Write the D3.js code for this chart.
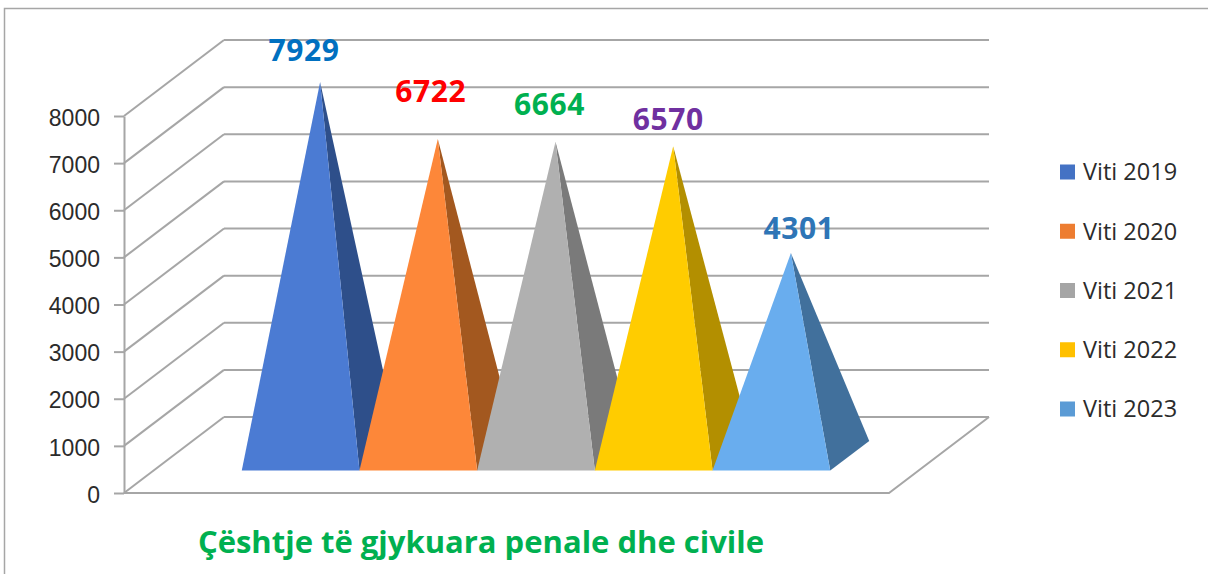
<!DOCTYPE html>
<html>
<head>
<meta charset="utf-8">
<script src="https://cdn.jsdelivr.net/npm/d3@7"></script>
<style>
  html, body { margin: 0; padding: 0; background: #fff; }
  svg { display: block; font-family: "Open Sans", "Noto Sans", sans-serif; }
</style>
</head>
<body>
<div id="chart"></div>
<script>
// ---- data ----
const years = ['Viti 2019', 'Viti 2020', 'Viti 2021', 'Viti 2022', 'Viti 2023'];
const values = [7929, 6722, 6664, 6570, 4301];
const yTicks = [0, 1000, 2000, 3000, 4000, 5000, 6000, 7000, 8000];
const chartTitle = 'Çështje të gjykuara penale dhe civile';

// ---- styles ----
const legendColors = ['#4472C4', '#ED7D31', '#A5A5A5', '#FFC000', '#5B9BD5'];
const frontColors = ['#4b7bd3', '#fd8739', '#b0b0b0', '#ffcc00', '#69adee'];
const sideColors = ['#2e4f8a', '#a3581f', '#7a7a7a', '#b38f00', '#41709c'];
const labelColors = ['#0070C0', '#FF0000', '#00B050', '#7030A0', '#2E75B6'];
// labels were hand-moved in the original
const labelNudge = [[-16, -1], [-7, -17], [-6, -7], [-5, 4], [8, 6]];

const width = 1208;
const height = 574;
const gridColor = '#a6a6a6';
const textColor = '#2b2b2b';

// front plane of the plot box and the depth vector of the 3D walls
const front = { left: 124, right: 889, bottom: 493, top: 116 };
const depth = { dx: 100, dy: -76 };

const svg = d3.select('#chart')
  .append('svg')
  .attr('width', width)
  .attr('height', height);

// outer chart frame
svg.append('rect')
  .attr('x', 4.5).attr('y', 8.5)
  .attr('width', width + 50).attr('height', height + 50)
  .attr('fill', '#fff')
  .attr('stroke', gridColor)
  .attr('stroke-width', 1.5);

const y = d3.scaleLinear()
  .domain([0, 8000])
  .range([front.bottom, front.top]);

const x = d3.scaleBand()
  .domain(years)
  .range([front.left, front.right])
  .paddingInner(0)
  .paddingOuter(0.75);

// project a point of the front plane back by fraction f of the depth
const proj = (px, v, f) => [px + f * depth.dx, y(v) + f * depth.dy];

// ---- walls ----
const walls = svg.append('g')
  .attr('stroke', gridColor)
  .attr('stroke-width', 2)
  .attr('fill', 'none');

// back wall grid lines
walls.selectAll('.back')
  .data(yTicks)
  .enter()
  .append('line')
  .attr('x1', d => proj(front.left, d, 1)[0])
  .attr('y1', d => proj(front.left, d, 1)[1])
  .attr('x2', d => proj(front.right, d, 1)[0])
  .attr('y2', d => proj(front.right, d, 1)[1]);

// side wall grid lines
walls.selectAll('.side')
  .data(yTicks)
  .enter()
  .append('line')
  .attr('x1', d => proj(front.left, d, 0)[0])
  .attr('y1', d => proj(front.left, d, 0)[1])
  .attr('x2', d => proj(front.left, d, 1)[0])
  .attr('y2', d => proj(front.left, d, 1)[1]);

// floor outline (front and right edges)
walls.append('path')
  .attr('d', d3.line()([
    proj(front.left, 0, 0),
    proj(front.right, 0, 0),
    proj(front.right, 0, 1)
  ]));

// ---- y axis ----
svg.append('g')
  .attr('transform', `translate(${front.left},0)`)
  .call(d3.axisLeft(y).tickValues(yTicks).tickSize(10).tickSizeOuter(0).tickPadding(14).tickFormat(d3.format('d')))
  .call(g => g.selectAll('line, path').attr('stroke', gridColor).attr('stroke-width', 2))
  .call(g => g.selectAll('text')
    .attr('fill', textColor)
    .attr('dy', '0.4em')
    .style('font-size', '23px'));

// ---- pyramids ----
const baseFront = 0.295;
const baseBack = 0.685;
const baseMid = (baseFront + baseBack) / 2;

const pyr = years.map((yr, i) => {
  const xl = x(yr);
  const xr = xl + x.bandwidth();
  return {
    i,
    fl: proj(xl, 0, baseFront),
    fr: proj(xr, 0, baseFront),
    br: proj(xr, 0, baseBack),
    apex: proj((xl + xr) / 2, values[i], baseMid)
  };
});

const pyrG = svg.selectAll('.pyramid')
  .data(pyr)
  .enter()
  .append('g')
  .attr('class', 'pyramid');

pyrG.append('path')
  .attr('d', d => d3.line()([d.fr, d.br, d.apex]) + 'Z')
  .attr('fill', d => sideColors[d.i]);

pyrG.append('path')
  .attr('d', d => d3.line()([d.fl, d.fr, d.apex]) + 'Z')
  .attr('fill', d => frontColors[d.i]);

// value labels
svg.selectAll('.val')
  .data(pyr)
  .enter()
  .append('text')
  .attr('x', d => d.apex[0] + labelNudge[d.i][0])
  .attr('y', d => d.apex[1] - 20 + labelNudge[d.i][1])
  .attr('text-anchor', 'middle')
  .attr('fill', d => labelColors[d.i])
  .style('font-size', '30px')
  .style('letter-spacing', '0.6px')
  .style('font-weight', 700)
  .text(d => values[d.i]);

// ---- legend ----
const ly = d3.scalePoint()
  .domain(years)
  .range([172, 409]);

const legend = svg.selectAll('.legend')
  .data(years)
  .enter()
  .append('g')
  .attr('transform', d => `translate(1060,${ly(d)})`);

legend.append('rect')
  .attr('x', 0).attr('y', -7.5)
  .attr('width', 15).attr('height', 15)
  .attr('fill', (d, i) => legendColors[i]);

legend.append('text')
  .attr('x', 23)
  .attr('dy', '0.36em')
  .attr('fill', textColor)
  .style('font-size', '23.5px')
  .text(d => d);

// ---- title ----
svg.append('text')
  .attr('x', 481)
  .attr('y', 553)
  .attr('text-anchor', 'middle')
  .attr('fill', '#00B050')
  .style('font-size', '31px')
  .style('font-weight', 700)
  .text(chartTitle);
</script>
</body>
</html>
